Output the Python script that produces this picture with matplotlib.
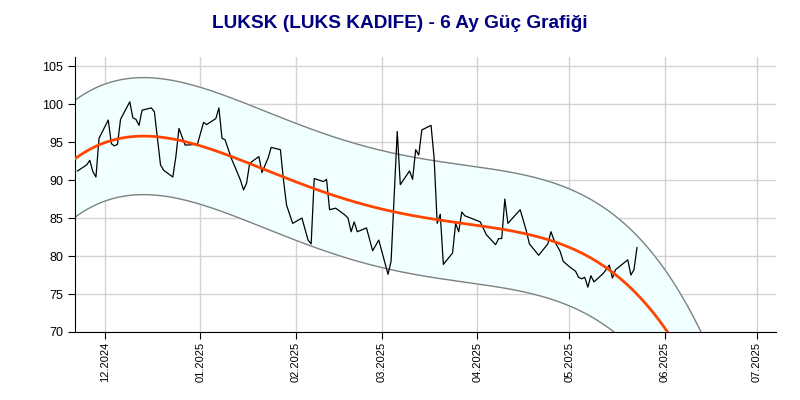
import numpy as np
import pandas as pd
import matplotlib
matplotlib.use('Agg')
import matplotlib.pyplot as plt
import matplotlib.dates as mdates

dates = ['2024-11-22', '2024-11-25', '2024-11-26', '2024-11-27', '2024-11-28', '2024-11-29',
         '2024-12-02', '2024-12-03', '2024-12-04', '2024-12-05', '2024-12-06', '2024-12-09',
         '2024-12-10', '2024-12-11', '2024-12-12', '2024-12-13', '2024-12-16', '2024-12-17',
         '2024-12-19', '2024-12-20', '2024-12-23', '2024-12-24', '2024-12-25', '2024-12-27',
         '2024-12-31', '2025-01-02', '2025-01-03', '2025-01-06', '2025-01-07', '2025-01-08',
         '2025-01-09', '2025-01-11', '2025-01-14', '2025-01-15', '2025-01-16', '2025-01-17',
         '2025-01-20', '2025-01-21', '2025-01-23', '2025-01-24', '2025-01-27', '2025-01-28',
         '2025-01-29', '2025-01-31', '2025-02-03', '2025-02-05', '2025-02-06', '2025-02-07',
         '2025-02-10', '2025-02-11', '2025-02-12', '2025-02-14', '2025-02-17', '2025-02-18',
         '2025-02-19', '2025-02-20', '2025-02-21', '2025-02-24', '2025-02-26', '2025-02-28',
         '2025-03-03', '2025-03-04', '2025-03-06', '2025-03-07', '2025-03-10', '2025-03-11',
         '2025-03-12', '2025-03-13', '2025-03-14', '2025-03-17', '2025-03-18', '2025-03-19',
         '2025-03-20', '2025-03-21', '2025-03-24', '2025-03-25', '2025-03-26', '2025-03-27',
         '2025-03-28', '2025-04-02', '2025-04-04', '2025-04-07', '2025-04-08', '2025-04-09',
         '2025-04-10', '2025-04-11', '2025-04-15', '2025-04-17', '2025-04-18', '2025-04-21',
         '2025-04-24', '2025-04-25', '2025-04-26', '2025-04-28', '2025-04-29', '2025-05-01',
         '2025-05-03', '2025-05-04', '2025-05-05', '2025-05-06', '2025-05-07', '2025-05-08',
         '2025-05-09', '2025-05-12', '2025-05-14', '2025-05-15', '2025-05-16', '2025-05-20',
         '2025-05-21', '2025-05-22', '2025-05-23']
prices = [91.2, 92.0, 92.6, 91.1, 90.4, 95.5,
          97.9, 94.8, 94.5, 94.7, 98.0, 100.3,
          98.2, 98.0, 97.2, 99.2, 99.5, 99.0,
          92.0, 91.3, 90.4, 93.1, 96.8, 94.6,
          94.7, 97.6, 97.3, 98.1, 99.5, 95.5,
          95.3, 92.9, 90.0, 88.7, 89.6, 92.2,
          93.1, 91.0, 92.9, 94.3, 94.0, 90.0,
          86.7, 84.3, 85.0, 82.1, 81.6, 90.2,
          89.8, 90.1, 86.1, 86.3, 85.4, 85.0,
          83.2, 84.5, 83.2, 83.7, 80.7, 82.1,
          77.6, 79.3, 96.4, 89.4, 91.2, 90.1,
          94.0, 93.3, 96.6, 97.2, 92.9, 84.3,
          85.5, 78.9, 80.4, 84.3, 83.2, 85.8,
          85.3, 84.5, 82.8, 81.5, 82.3, 82.3,
          87.5, 84.3, 86.1, 83.3, 81.6, 80.1,
          81.6, 83.2, 82.1, 80.6, 79.3, 78.6,
          78.0, 77.2, 77.0, 77.2, 75.9, 77.4,
          76.6, 77.7, 78.8, 77.1, 78.2, 79.5,
          77.5, 78.2, 81.1]

title = 'LUKSK (LUKS KADIFE) - 6 Ay Güç Grafiği'

plt.rcParams['font.family'] = ['Liberation Sans', 'DejaVu Sans']

x = mdates.date2num(pd.to_datetime(dates))
x0 = x[0]
xmin = mdates.date2num(pd.Timestamp('2024-11-21 06:00'))
xmax = mdates.date2num(pd.Timestamp('2025-07-07 05:00'))
xs = np.linspace(xmin, xmax, 500)

fig = plt.figure(figsize=(8, 4), dpi=100)
ax = fig.add_axes([0.094, 0.17, 0.876, 0.6875])

# trend: 4th degree polynomial fit over the price, band = +-2 std of residuals
coef = np.polyfit(x - x0, prices, 4)
trend = np.polyval(coef, xs - x0)
resid = np.array(prices) - np.polyval(coef, x - x0)
band = 2 * resid.std()

ax.fill_between(xs, trend - band, trend + band, color='#F0FFFF', zorder=1)
ax.plot(xs, trend + band, color='#808080', lw=1, zorder=2)
ax.plot(xs, trend - band, color='#808080', lw=1, zorder=2)
ax.plot(xs, trend, color='#FF4500', lw=2, zorder=4)
ax.plot(x, prices, color='black', lw=0.9, zorder=3)

ax.set_xlim(xmin, xmax)
ax.set_ylim(70, 106.2)
ax.set_yticks(np.arange(70, 106, 5))
ax.xaxis.set_major_locator(mdates.MonthLocator())
ax.xaxis.set_major_formatter(mdates.DateFormatter('%m.%Y'))
ax.tick_params(axis='x', rotation=90, labelsize=8, length=5, pad=2, direction='out')
ax.tick_params(axis='y', labelsize=9, length=5, direction='out')
ax.grid(True, color='#D3D3D3', lw=1)
ax.set_axisbelow(True)
for s in ['top', 'right']:
    ax.spines[s].set_visible(False)

fig.suptitle(title, fontsize=13.7, fontweight='bold', color='#000080', y=0.962)
fig.savefig('out.png', dpi=100)
